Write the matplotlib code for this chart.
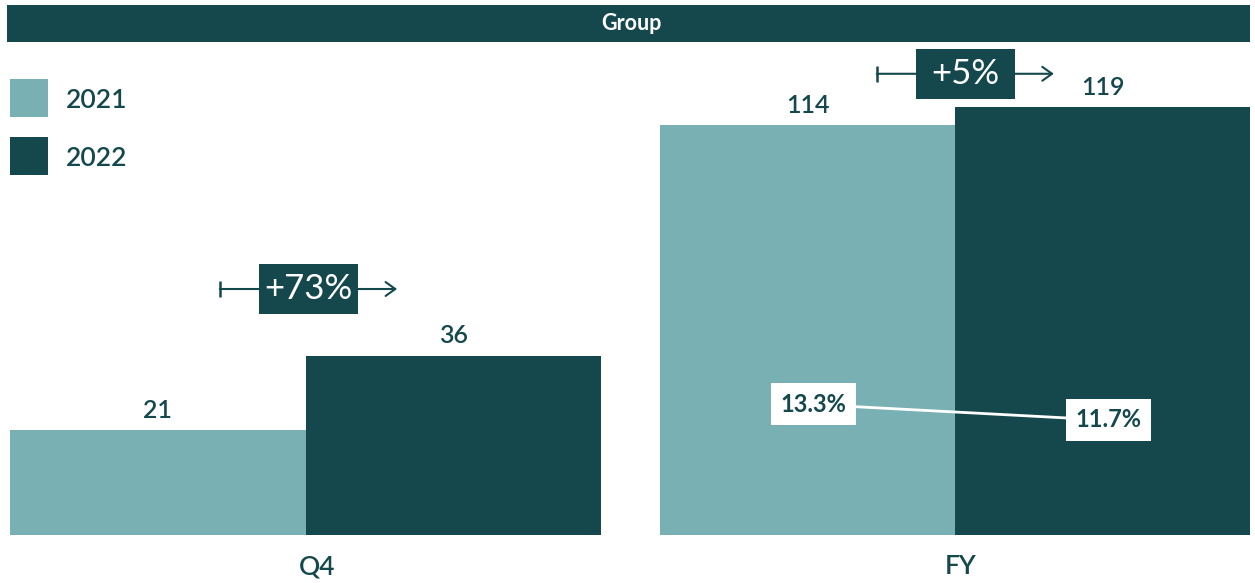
import matplotlib
matplotlib.use("Agg")
import matplotlib.pyplot as plt
from matplotlib.patches import Rectangle
from matplotlib.transforms import ScaledTranslation

plt.rcParams['font.family'] = ['Lato', 'DejaVu Sans']

# data
years = ["2021", "2022"]
q4_values = [21, 36]
fy_values = [114, 119]
q4_growth = "+73%"
fy_growth = "+5%"
fy_margin = [13.3, 11.7]
periods = ["Q4", "FY"]
title = "Group"

LIGHT = "#78b0b4"
DARK = "#15484d"
W, H = 1255, 583


def px_box(x0, y0, x1, y1):
    """pixel box (top-left origin) -> figure fraction rect"""
    return [x0 / W, 1 - y1 / H, (x1 - x0) / W, (y1 - y0) / H]


fig = plt.figure(figsize=(W / 100, H / 100), dpi=100)

# header band
fig.add_artist(Rectangle((7 / W, 1 - 42 / H), 1243 / W, 37 / H,
                         transform=fig.transFigure, color=DARK, lw=0))
fig.text(631 / W, 1 - 23 / H, title, color="white", fontsize=15.5,
         fontweight="bold", ha="center", va="center")


def bar_panel(rect, values, top, label, growth, growth_x, growth_y, label_x):
    ax = fig.add_axes(rect)
    ax.bar([0, 1], values, width=1.0, color=[LIGHT, DARK], lw=0)
    ax.set_xlim(-0.5, 1.5)
    ax.set_ylim(0, top)
    ax.axis("off")
    for i, v in enumerate(values):
        ax.annotate(f"{v}", xy=(i, v), xytext=(0, 6), textcoords="offset points",
                    ha="center", va="bottom", fontsize=18, color=DARK,
                    fontweight="semibold")
    ax.annotate(label, xy=(label_x, 0), xycoords="axes fraction",
                xytext=(0, -23), textcoords="offset points", ha="center",
                va="center", fontsize=19, color=DARK, fontweight="semibold")
    # growth arrow with a start tick
    x0, x1 = growth_x
    xc = (x0 + x1) / 2
    ax.annotate("", xy=(x1, growth_y), xytext=(x0, growth_y),
                arrowprops=dict(arrowstyle="->, head_length=0.7, head_width=0.5",
                                color=DARK, lw=1.5, shrinkA=0, shrinkB=0))
    ax.plot([x0], [growth_y], marker="|", ms=12, mew=1.8, color=DARK)
    # fixed-size box (0.99 x 0.5 inch) centred on the arrow
    box_trans = fig.dpi_scale_trans + ScaledTranslation(xc, growth_y, ax.transData)
    ax.add_patch(Rectangle((-0.495, -0.25), 0.99, 0.5, transform=box_trans,
                           color=DARK, lw=0, zorder=3, clip_on=False))
    ax.text(xc, growth_y, growth, ha="center", va="center", fontsize=25,
            color="white", zorder=4)
    return ax


ax_q4 = bar_panel(px_box(10, 45, 601, 535), q4_values, 98.4, periods[0],
                  q4_growth, (0.21, 0.81), 49.4, 0.52)
ax_fy = bar_panel(px_box(660, 45, 1250, 535), fy_values, 136.2, periods[1],
                  fy_growth, (0.235, 0.835), 128.2, 0.51)

# margin line on FY bars
ax_m = ax_fy.twinx()
ax_m.set_ylim(0, 49.8)
ax_m.axis("off")
ax_m.plot([0, 1], fy_margin, color="white", lw=2, zorder=2)
for i, m in enumerate(fy_margin):
    ax_m.text(i + 0.02, m, f"{m:.1f}%", ha="center", va="center", fontsize=17,
              fontweight="bold", color=DARK, zorder=3,
              bbox=dict(boxstyle="square,pad=0.4", fc="white", ec="none"))

# legend, drawn by hand
for k, (yr, col) in enumerate(zip(years, [LIGHT, DARK])):
    top = 79 + 58 * k
    fig.add_artist(Rectangle((10 / W, 1 - (top + 38) / H), 38 / W, 38 / H,
                             transform=fig.transFigure, color=col, lw=0))
    fig.text(66 / W, 1 - (top + 21) / H, yr, color=DARK, fontsize=19,
             fontweight="semibold", ha="left", va="center")

fig.savefig("out.png", dpi=100)
